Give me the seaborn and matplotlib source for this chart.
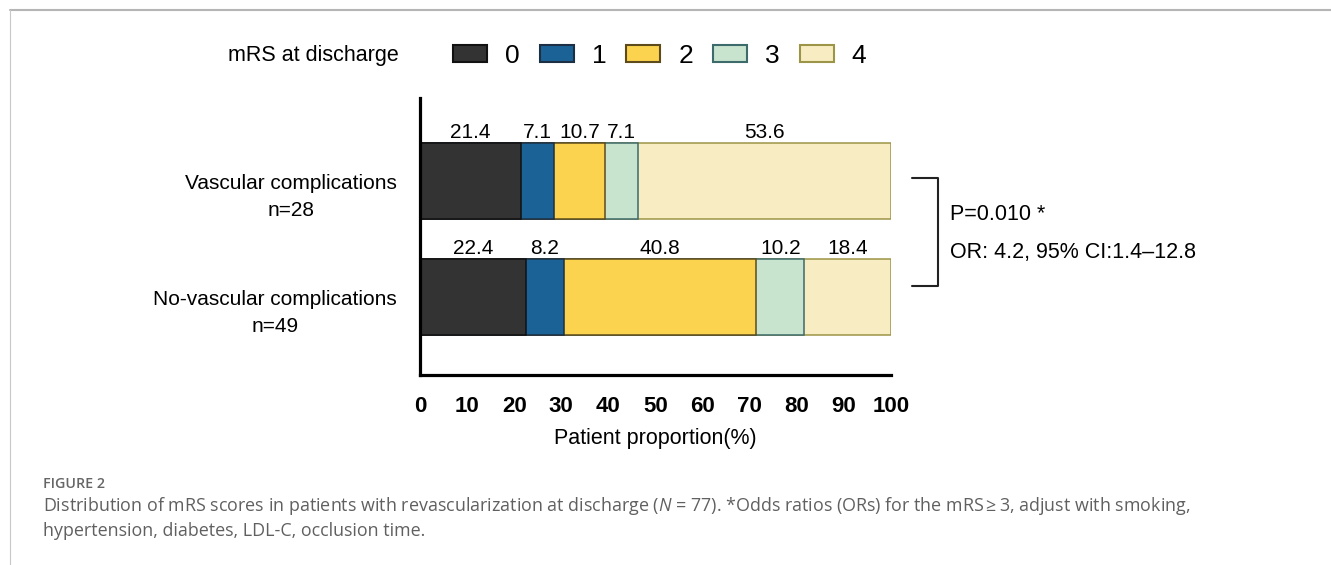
import matplotlib
matplotlib.use("Agg")
import matplotlib.pyplot as plt
from matplotlib.patches import Patch
from matplotlib.lines import Line2D
import pandas as pd
import seaborn as sns

# data
groups = ["Vascular complications", "No-vascular complications"]
group_n = ["n=28", "n=49"]
mrs_levels = ["0", "1", "2", "3", "4"]
vascular = [21.4, 7.1, 10.7, 7.1, 53.6]
no_vascular = [22.4, 8.2, 40.8, 10.2, 18.4]
x_ticks = [0, 10, 20, 30, 40, 50, 60, 70, 80, 90, 100]
p_text = "P=0.010 *"
or_text = "OR: 4.2, 95% CI:1.4\u201312.8"
caption_head = "FIGURE 2"
caption_1 = ("Distribution of mRS scores in patients with revascularization at discharge "
             "($\\it{N}$ = 77). *Odds ratios (ORs) for the mRS\u2009\u2265\u20093, "
             "adjust with smoking,")
caption_2 = "hypertension, diabetes, LDL-C, occlusion time."

fill_colors = ["#333333", "#1b6396", "#fcd34f", "#c8e4cf", "#f8edc2"]
edge_colors = ["#111111", "#1d2f45", "#5e4b1c", "#3d6a6a", "#9c9446"]

rows = []
for g, vals in zip(groups, [vascular, no_vascular]):
    for lvl, v in zip(mrs_levels, vals):
        rows.append({"group": g, "level": lvl, "value": v})
df = pd.DataFrame(rows)
df["cum"] = df.groupby("group")["value"].cumsum()

sns.set_style("white")
plt.rcParams["font.family"] = ["Liberation Sans", "DejaVu Sans"]
plt.rcParams["text.color"] = "black"
plt.rcParams["axes.labelcolor"] = "black"
plt.rcParams["xtick.color"] = "black"
plt.rcParams["ytick.color"] = "black"
plt.rcParams["mathtext.fontset"] = "custom"
plt.rcParams["mathtext.it"] = "Open Sans:italic"
plt.rcParams["mathtext.rm"] = "Open Sans"

fig = plt.figure(figsize=(13.31, 5.65), dpi=100)
ax = fig.add_axes([420 / 1331, 190 / 565, 471 / 1331, 277 / 565])

# stacked bars: draw cumulative totals from widest to narrowest
for i in reversed(range(len(mrs_levels))):
    sub = df[df["level"] == mrs_levels[i]]
    sns.barplot(data=sub, x="cum", y="group", order=groups, orient="h",
                color=fill_colors[i], edgecolor=edge_colors[i], linewidth=1.1,
                width=0.655, saturation=1, errorbar=None, ax=ax)

# value labels above each segment
for gi, g in enumerate(groups):
    sub = df[df["group"] == g]
    for _, r in sub.iterrows():
        ax.annotate(f"{r['value']:.1f}", xy=(r["cum"] - r["value"] / 2, gi - 0.655 / 2),
                    xytext=(0, 4), textcoords="offset points",
                    ha="center", va="baseline", fontsize=15, annotation_clip=False)

ax.set_xlim(0, 100)
ax.set_ylim(1.672, -0.716)
ax.set_xticks(x_ticks)
ax.set_xticklabels([str(t) for t in x_ticks], fontsize=16, fontweight="bold")
ax.set_yticks(range(len(groups)))
ax.set_yticklabels([])
ax.set_xlabel("Patient proportion(%)", fontsize=15.5, labelpad=8)
ax.set_ylabel("")

for gi, (g, n) in enumerate(zip(groups, group_n)):
    ax.annotate(f"{g}\n{n}", xy=(0, gi), xycoords=ax.get_yaxis_transform(),
                xytext=(-16.5, -11.5), textcoords="offset points",
                ha="right", va="center", multialignment="center",
                linespacing=1.5, fontsize=15)

for side in ["top", "right"]:
    ax.spines[side].set_visible(False)
for side in ["left", "bottom"]:
    ax.spines[side].set_linewidth(2.3)
    ax.spines[side].set_color("black")
ax.tick_params(axis="x", length=9, width=2.3, color="black", pad=6)
ax.tick_params(axis="y", length=10, width=2.3, color="black")

# bracket with statistics
ax.plot([104.5, 110.0, 110.0, 104.5], [-0.03, -0.03, 0.905, 0.905],
        color="#222222", lw=1.5, clip_on=False)
ax.text(112.5, 0.29, p_text, fontsize=15.5, va="center", ha="left")
ax.text(112.5, 0.62, or_text, fontsize=15.5, va="center", ha="left")

# legend across the top
fig.text(228 / 1331, 1 - 55 / 565, "mRS at discharge", fontsize=15.5, va="center", ha="left")
handles = [Patch(facecolor=c, edgecolor=e, linewidth=1.5) for c, e in zip(fill_colors, edge_colors)]
fig.legend(handles, mrs_levels, ncol=5, frameon=False, fontsize=19,
           loc="center left", bbox_to_anchor=(453 / 1331, 1 - 56 / 565),
           borderpad=0, borderaxespad=0, handlelength=1.29, handleheight=0.61,
           handletextpad=0.68, columnspacing=0.76)

# caption
cap_font = ["Open Sans", "DejaVu Sans"]
fig.text(43 / 1331, 1 - 484 / 565, caption_head, fontsize=10.3, color="#666666",
         family=cap_font, fontweight="semibold", va="center")
fig.text(43 / 1331, 1 - 506 / 565, caption_1, fontsize=12.9, color="#606060",
         family=cap_font, va="center")
fig.text(43 / 1331, 1 - 531 / 565, caption_2, fontsize=12.9, color="#606060",
         family=cap_font, va="center")

# page frame
fig.add_artist(Line2D([10 / 1331, 1], [1 - 10 / 565, 1 - 10 / 565],
                      transform=fig.transFigure, color="#b5b5b5", lw=1.5))
fig.add_artist(Line2D([10 / 1331, 10 / 1331], [0, 1 - 10 / 565],
                      transform=fig.transFigure, color="#c8c8c8", lw=0.8))

fig.savefig("out.png", dpi=100)
